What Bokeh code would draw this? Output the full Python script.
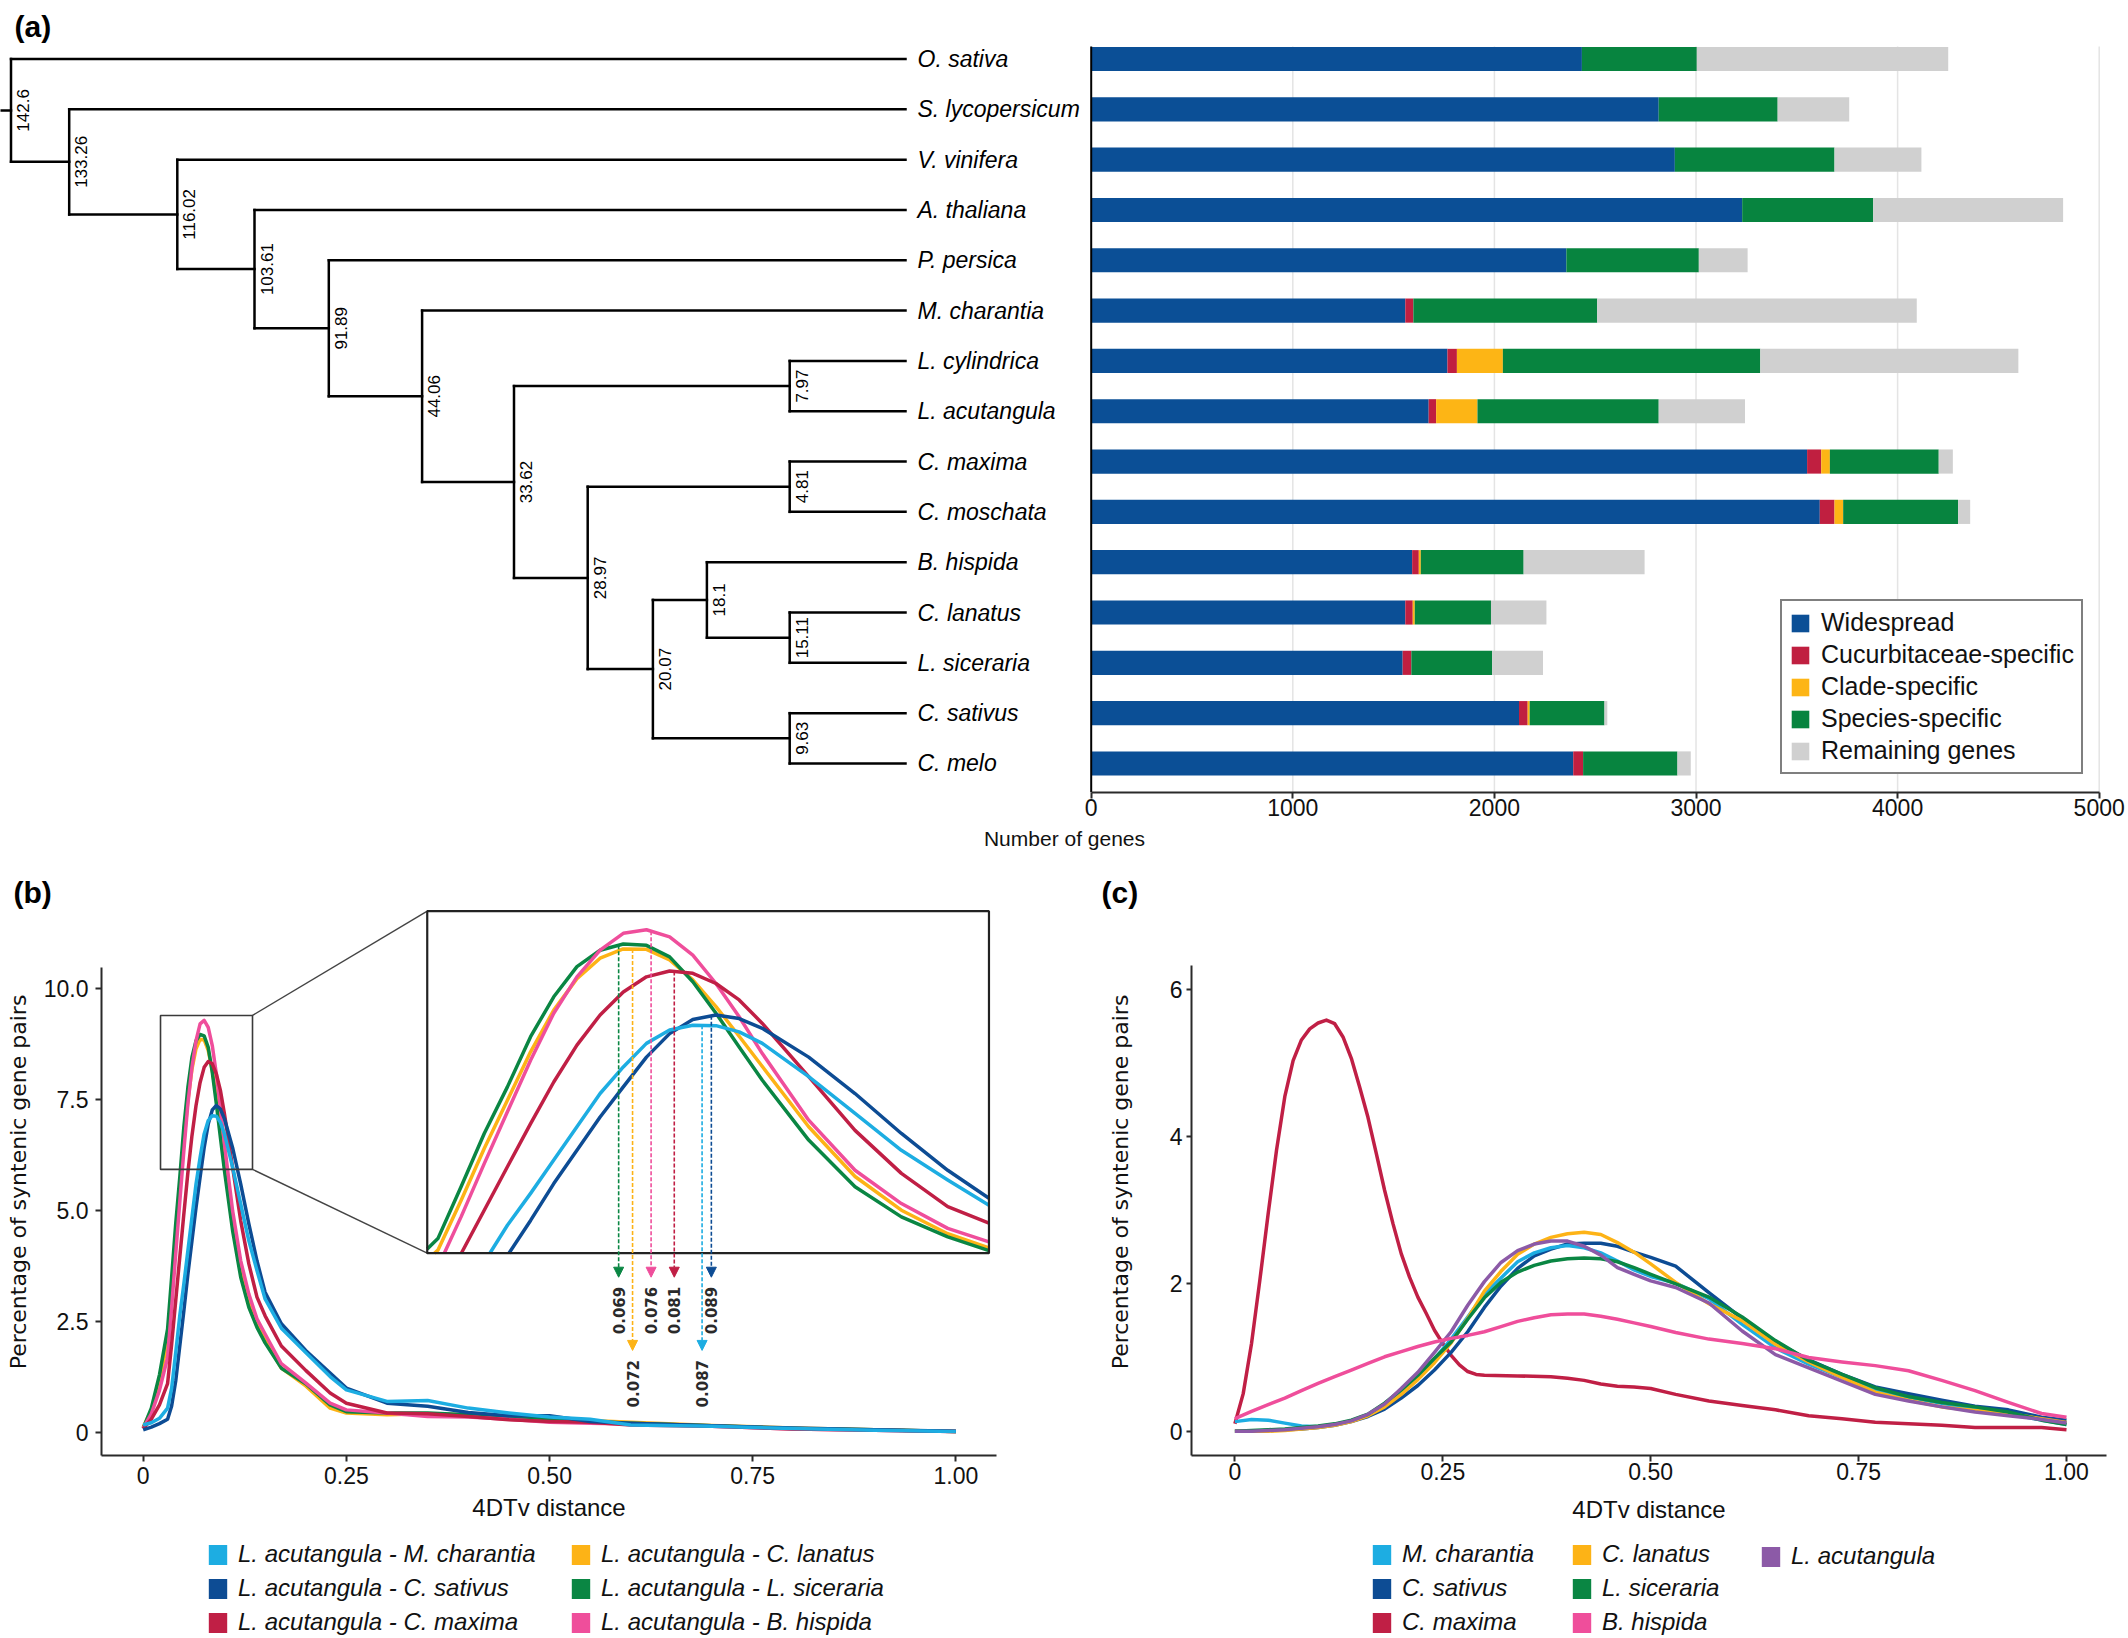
import math
import numpy as np
from bokeh.plotting import figure
from bokeh.models import (Range1d, FixedTicker, Label, Legend, LegendItem, Arrow, NormalHead, Title)
from bokeh.layouts import column, row
from bokeh.embed import file_html
from bokeh.resources import INLINE
from bokeh.core.properties import value

FONT = "Liberation Sans"
WIDE = "DejaVu Sans"
AXIS_COL = "#2a2a2a"

# ====================== panel (a) data ======================
SPECIES = ["O. sativa", "S. lycopersicum", "V. vinifera", "A. thaliana", "P. persica",
           "M. charantia", "L. cylindrica", "L. acutangula", "C. maxima", "C. moschata",
           "B. hispida", "C. lanatus", "L. siceraria", "C. sativus", "C. melo"]
CATEGORIES = ["Widespread", "Cucurbitaceae-specific", "Clade-specific",
              "Species-specific", "Remaining genes"]
WIDESPREAD = [2434, 2815, 2895, 3229, 2357, 1558, 1767, 1674, 3551, 3614, 1592, 1558, 1545, 2122, 2391]
CUCURBIT = [0, 0, 0, 0, 0, 40, 47, 37, 70, 73, 33, 37, 43, 43, 49]
CLADE = [0, 0, 0, 0, 0, 0, 228, 205, 43, 43, 10, 10, 0, 10, 0]
SPECIES_SPECIFIC = [570, 590, 792, 650, 657, 912, 1277, 899, 540, 570, 510, 378, 401, 371, 468]
REMAINING = [1247, 355, 431, 942, 242, 1585, 1280, 428, 70, 60, 600, 275, 252, 14, 66]
CAT_COLORS = ["#0B4F96", "#C01F40", "#FDB515", "#07843F", "#D0D0D0"]
GENE_TICKS = [0, 1000, 2000, 3000, 4000, 5000]

# tree: (node label = divergence time, child 1, child 2)
TREE = [
    ("142.6", "O. sativa", "133.26"),
    ("133.26", "S. lycopersicum", "116.02"),
    ("116.02", "V. vinifera", "103.61"),
    ("103.61", "A. thaliana", "91.89"),
    ("91.89", "P. persica", "44.06"),
    ("44.06", "M. charantia", "33.62"),
    ("33.62", "7.97", "28.97"),
    ("7.97", "L. cylindrica", "L. acutangula"),
    ("28.97", "4.81", "20.07"),
    ("4.81", "C. maxima", "C. moschata"),
    ("20.07", "18.1", "9.63"),
    ("18.1", "B. hispida", "15.11"),
    ("15.11", "C. lanatus", "L. siceraria"),
    ("9.63", "C. sativus", "C. melo"),
]
# cladogram layout (horizontal position of each node in tree-panel units)
NODE_POS = {"142.6": 10.5, "133.26": 68.7, "116.02": 176.8, "103.61": 254.0, "91.89": 328.3,
            "44.06": 421.6, "33.62": 513.5, "7.97": 789.2, "28.97": 587.2, "4.81": 789.2,
            "20.07": 652.4, "18.1": 706.4, "15.11": 789.2, "9.63": 789.2}
TIP_POS = 905.0

# ====================== panel (b) data ======================
XB = [0, 0.01, 0.02, 0.03, 0.035, 0.04, 0.045, 0.05, 0.055, 0.06, 0.065, 0.07, 0.075, 0.08,
      0.085, 0.09, 0.095, 0.10, 0.11, 0.12, 0.13, 0.14, 0.15, 0.17, 0.20, 0.23, 0.25, 0.30,
      0.35, 0.40, 0.45, 0.50, 0.55, 0.60, 0.70, 0.80, 0.90, 1.00]
B_MCHARANTIA = [0.17, 0.22, 0.32, 0.55, 1.00, 1.80, 2.63, 3.35, 4.10, 4.85, 5.60, 6.20, 6.73, 7.03,
                7.14, 7.13, 6.99, 6.73, 5.98, 5.15, 4.32, 3.65, 3.01, 2.35, 1.80, 1.26, 0.96, 0.70,
                0.72, 0.55, 0.44, 0.35, 0.30, 0.17, 0.14, 0.09, 0.05, 0.02]
B_CSATIVUS = [0.06, 0.12, 0.20, 0.30, 0.60, 1.16, 1.95, 2.74, 3.57, 4.32, 5.07, 5.75, 6.42, 6.95,
              7.27, 7.37, 7.29, 7.07, 6.42, 5.60, 4.70, 3.87, 3.16, 2.45, 1.85, 1.34, 1.00, 0.66,
              0.59, 0.45, 0.38, 0.38, 0.25, 0.21, 0.15, 0.10, 0.06, 0.03]
B_CMAXIMA = [0.08, 0.30, 0.62, 1.10, 1.99, 2.97, 3.95, 4.92, 5.86, 6.69, 7.37, 7.89, 8.23, 8.36,
             8.31, 8.08, 7.71, 7.18, 5.98, 4.77, 3.80, 3.05, 2.63, 1.95, 1.40, 0.89, 0.66, 0.44,
             0.42, 0.36, 0.29, 0.25, 0.23, 0.17, 0.14, 0.08, 0.05, 0.02]
B_CLANATUS = [0.12, 0.50, 1.15, 2.07, 3.19, 4.36, 5.45, 6.54, 7.48, 8.19, 8.65, 8.86, 8.85, 8.61,
              8.16, 7.56, 6.89, 6.21, 4.85, 3.73, 2.97, 2.44, 2.08, 1.45, 1.05, 0.55, 0.44, 0.40,
              0.42, 0.40, 0.38, 0.32, 0.27, 0.23, 0.16, 0.10, 0.06, 0.02]
B_LSICERARIA = [0.10, 0.55, 1.30, 2.33, 3.50, 4.70, 5.75, 6.88, 7.78, 8.46, 8.83, 8.97, 8.94, 8.68,
                8.12, 7.41, 6.65, 5.90, 4.55, 3.50, 2.82, 2.37, 2.02, 1.45, 1.10, 0.62, 0.47, 0.44,
                0.44, 0.40, 0.36, 0.30, 0.25, 0.21, 0.15, 0.09, 0.06, 0.02]
B_BHISPIDA = [0.10, 0.42, 0.95, 1.69, 2.82, 4.02, 5.19, 6.35, 7.41, 8.23, 8.83, 9.21, 9.29, 9.13,
              8.72, 8.08, 7.33, 6.50, 5.00, 3.87, 3.12, 2.56, 2.22, 1.55, 1.12, 0.66, 0.51, 0.44,
              0.36, 0.35, 0.30, 0.23, 0.21, 0.19, 0.14, 0.08, 0.05, 0.02]
B_NAMES = ["L. acutangula - M. charantia", "L. acutangula - C. sativus", "L. acutangula - C. maxima",
           "L. acutangula - C. lanatus", "L. acutangula - L. siceraria", "L. acutangula - B. hispida"]
B_PEAKS = [0.087, 0.089, 0.081, 0.072, 0.069, 0.076]   # 4DTv peak positions
B_YTICKS = [0, 2.5, 5, 7.5, 10]
B_YLABELS = ["0", "2.5", "5.0", "7.5", "10.0"]

# ====================== panel (c) data ======================
XC = [0, 0.02, 0.04, 0.06, 0.08, 0.10, 0.12, 0.14, 0.16, 0.18, 0.20, 0.22, 0.24, 0.26, 0.28,
      0.30, 0.32, 0.34, 0.36, 0.38, 0.40, 0.42, 0.44, 0.46, 0.48, 0.50, 0.53, 0.57, 0.61, 0.65,
      0.69, 0.73, 0.77, 0.81, 0.85, 0.89, 0.93, 0.97, 1.00]
C_MCHARANTIA = [0.13, 0.16, 0.15, 0.11, 0.07, 0.06, 0.09, 0.14, 0.22, 0.35, 0.52, 0.72, 0.98, 1.25,
                1.55, 1.86, 2.08, 2.30, 2.42, 2.49, 2.52, 2.49, 2.42, 2.31, 2.19, 2.10, 2.01, 1.80,
                1.45, 1.13, 0.91, 0.73, 0.56, 0.46, 0.38, 0.30, 0.24, 0.15, 0.09]
C_CSATIVUS = [0.0, 0.0, 0.01, 0.02, 0.03, 0.05, 0.08, 0.13, 0.20, 0.30, 0.45, 0.62, 0.83, 1.07,
              1.35, 1.68, 1.97, 2.21, 2.38, 2.47, 2.54, 2.55, 2.55, 2.51, 2.43, 2.36, 2.24, 1.88,
              1.53, 1.21, 0.97, 0.77, 0.60, 0.51, 0.42, 0.34, 0.29, 0.19, 0.15]
XC_MAXIMA = [0, 0.01, 0.02, 0.03, 0.04, 0.05, 0.06, 0.07, 0.08, 0.09, 0.10, 0.11, 0.12, 0.13, 0.14,
             0.15, 0.16, 0.17, 0.18, 0.19, 0.20, 0.21, 0.22, 0.23, 0.24, 0.25, 0.26, 0.27, 0.28,
             0.29, 0.30, 0.34, 0.38, 0.40, 0.42, 0.44, 0.46, 0.48, 0.50, 0.53, 0.57, 0.61, 0.65,
             0.69, 0.73, 0.77, 0.81, 0.85, 0.89, 0.93, 0.97, 1.00]
C_CMAXIMA = [0.10, 0.51, 1.19, 2.05, 2.95, 3.81, 4.54, 5.03, 5.31, 5.46, 5.54, 5.58, 5.53, 5.35,
             5.06, 4.67, 4.26, 3.77, 3.27, 2.82, 2.41, 2.09, 1.82, 1.60, 1.37, 1.19, 1.03, 0.90,
             0.81, 0.77, 0.76, 0.75, 0.74, 0.72, 0.69, 0.64, 0.61, 0.60, 0.58, 0.50, 0.41, 0.35,
             0.29, 0.21, 0.17, 0.12, 0.10, 0.08, 0.05, 0.05, 0.05, 0.02]
C_CLANATUS = [0.0, 0.0, 0.0, 0.01, 0.03, 0.05, 0.08, 0.13, 0.21, 0.33, 0.50, 0.70, 0.93, 1.20,
              1.53, 1.90, 2.17, 2.40, 2.54, 2.63, 2.68, 2.70, 2.67, 2.56, 2.43, 2.27, 2.02, 1.73,
              1.50, 1.18, 0.94, 0.73, 0.53, 0.42, 0.33, 0.28, 0.24, 0.17, 0.12]
C_LSICERARIA = [0.0, 0.01, 0.02, 0.03, 0.05, 0.07, 0.10, 0.15, 0.23, 0.38, 0.56, 0.76, 0.99, 1.21,
                1.52, 1.81, 2.02, 2.16, 2.25, 2.31, 2.34, 2.35, 2.34, 2.30, 2.22, 2.13, 2.00, 1.82,
                1.55, 1.23, 0.96, 0.77, 0.59, 0.47, 0.39, 0.33, 0.26, 0.15, 0.09]
C_BHISPIDA = [0.17, 0.27, 0.36, 0.45, 0.55, 0.65, 0.74, 0.83, 0.92, 1.01, 1.08, 1.15, 1.21, 1.26,
              1.30, 1.35, 1.42, 1.49, 1.54, 1.58, 1.59, 1.59, 1.56, 1.52, 1.47, 1.42, 1.34, 1.25,
              1.19, 1.12, 1.00, 0.94, 0.89, 0.82, 0.69, 0.55, 0.39, 0.24, 0.19]
C_LACUTANGULA = [0.0, 0.0, 0.01, 0.02, 0.04, 0.06, 0.09, 0.14, 0.23, 0.37, 0.58, 0.80, 1.07, 1.35,
                 1.71, 2.03, 2.29, 2.45, 2.54, 2.58, 2.58, 2.51, 2.39, 2.22, 2.13, 2.04, 1.95, 1.74,
                 1.36, 1.04, 0.86, 0.68, 0.50, 0.41, 0.33, 0.26, 0.21, 0.16, 0.11]
C_NAMES = ["M. charantia", "C. sativus", "C. maxima", "C. lanatus", "L. siceraria",
           "B. hispida", "L. acutangula"]
C_YTICKS = [0, 2, 4, 6]
X_TICKS = [0, 0.25, 0.5, 0.75, 1.0]
X_LABELS = ["0", "0.25", "0.50", "0.75", "1.00"]

# ====================== styles ======================
COL_CYAN, COL_BLUE, COL_RED = "#1DADE2", "#0D4C94", "#C01F45"
COL_ORANGE, COL_GREEN, COL_PINK, COL_PURPLE = "#FDB316", "#0A8643", "#EF4E9B", "#8C5AA7"
B_COLORS = [COL_CYAN, COL_BLUE, COL_RED, COL_ORANGE, COL_GREEN, COL_PINK]
C_COLORS = [COL_CYAN, COL_BLUE, COL_RED, COL_ORANGE, COL_GREEN, COL_PINK, COL_PURPLE]


def style_axis(ax, ticks, labels, title, bounds=None, tick_size="23px", title_size="24px",
               title_font=FONT, standoff=5, title_standoff=7, tick_out=6):
    ax.ticker = FixedTicker(ticks=ticks)
    ax.major_label_overrides = dict(zip(ticks, labels))
    if bounds is not None:
        ax.bounds = bounds
    ax.axis_label = title
    ax.axis_label_text_font = title_font
    ax.axis_label_text_font_size = title_size
    ax.axis_label_text_font_style = "normal"
    ax.axis_label_text_color = "#111111"
    ax.axis_label_standoff = title_standoff
    ax.major_label_text_font = FONT
    ax.major_label_text_font_size = tick_size
    ax.major_label_text_color = "#111111"
    ax.major_label_standoff = standoff
    ax.axis_line_color = AXIS_COL
    ax.axis_line_width = 2
    ax.major_tick_line_color = AXIS_COL
    ax.major_tick_line_width = 2
    ax.major_tick_out = tick_out
    ax.major_tick_in = 0
    ax.minor_tick_line_color = None


def base_fig(**kw):
    return figure(output_backend="svg", toolbar_location=None, outline_line_color=None,
                  title=None, background_fill_color="white", border_fill_color="white", **kw)


def panel_title(p, text, offset):
    p.add_layout(Title(text=text, align="left", offset=offset, standoff=0,
                       text_font=FONT, text_font_style="bold", text_font_size="30px",
                       text_color="black"), "above")


def make_legend(names, rends, loc):
    return Legend(items=[LegendItem(label=n, renderers=[r]) for n, r in zip(names, rends)],
                  location=loc, orientation="vertical", padding=0, spacing=6, margin=0,
                  glyph_width=23, glyph_height=25, label_height=27, label_standoff=9,
                  border_line_color=None, background_fill_alpha=0.0,
                  label_text_font=FONT, label_text_font_style="italic",
                  label_text_font_size="24px", label_text_color="#111111")


def swatches(p, colors):
    # legend keys: one square per colour, placed outside the visible range of the key panel
    return [p.quad(left=[5], right=[6], bottom=[5], top=[6], fill_color=c, line_color=None)
            for c in colors]


# ====================== panel (a) ======================
N = len(SPECIES)
ROWS = list(range(N))
pa = base_fig(width=2128, height=860, x_range=Range1d(-5410.2, 5145.3),
              y_range=Range1d(14.577, -1.1625), y_axis_type=None,
              min_border_left=0, min_border_right=0, min_border_top=0, min_border_bottom=68)
pa.extra_x_ranges = {"tree": Range1d(0, 2128)}
pa.xgrid.visible = False
pa.ygrid.visible = False

pa.segment(x0=GENE_TICKS[1:], x1=GENE_TICKS[1:], y0=[-0.25] * 5, y1=[14.577] * 5,
           line_color="#E4E4E4", line_width=1.5)
left = np.zeros(N)
bar_renderers = []
for name, vals, col in zip(CATEGORIES, [WIDESPREAD, CUCURBIT, CLADE, SPECIES_SPECIFIC, REMAINING],
                           CAT_COLORS):
    vals = np.asarray(vals, dtype=float)
    r = pa.hbar(y=ROWS, left=left, right=left + vals, height=0.48, fill_color=col, line_color=None)
    left = left + vals
    bar_renderers.append((name, r))
pa.segment(x0=[0], x1=[0], y0=[-0.25], y1=[14.577], line_color="black", line_width=2)

style_axis(pa.xaxis[0], GENE_TICKS, [str(t) for t in GENE_TICKS], "Number of genes",
           bounds=(0, 5000), tick_size="23px", title_size="21px", standoff=0, title_standoff=8)

leg_a = Legend(items=[LegendItem(label=n, renderers=[r]) for n, r in bar_renderers],
               location=(1780, 18), orientation="vertical", padding=7, spacing=3, margin=0,
               glyph_width=22, glyph_height=22, label_height=26, label_standoff=10,
               border_line_color="black", border_line_width=2.5,
               background_fill_color="white", background_fill_alpha=1.0,
               label_text_font=FONT, label_text_font_size="25px", label_text_color="#111111")
pa.add_layout(leg_a)

# tree
ypos = {s: float(i) for i, s in enumerate(SPECIES)}
xpos = {s: TIP_POS for s in SPECIES}
for lab, a, b in reversed(TREE):
    ypos[lab] = (ypos[a] + ypos[b]) / 2.0
    xpos[lab] = NODE_POS[lab]
sx0, sy0, sx1, sy1 = [], [], [], []
for lab, a, b in TREE:
    sx0.append(xpos[lab]); sx1.append(xpos[lab]); sy0.append(ypos[a]); sy1.append(ypos[b])
    for c in (a, b):
        sx0.append(xpos[lab]); sx1.append(xpos[c]); sy0.append(ypos[c]); sy1.append(ypos[c])
root = TREE[0][0]
sx0.append(0); sx1.append(xpos[root]); sy0.append(ypos[root]); sy1.append(ypos[root])
pa.segment(x0=sx0, y0=sy0, x1=sx1, y1=sy1, line_color="black", line_width=2.5,
           line_cap="square", x_range_name="tree")
pa.text(x=[TIP_POS + 12] * N, y=ROWS, text=SPECIES, x_range_name="tree",
        text_font=value(FONT), text_font_style=value("italic"), text_font_size=value("23px"),
        text_baseline=value("middle"), text_align=value("left"), text_color="black")
node_labels = [t[0] for t in TREE]
pa.text(x=[xpos[l] + 12 for l in node_labels], y=[ypos[l] for l in node_labels], text=node_labels,
        angle=math.pi / 2, x_range_name="tree", text_font=value(FONT),
        text_font_size=value("17px"), text_baseline=value("middle"), text_align=value("center"),
        text_color="black")
pa.add_layout(Label(x=14, y=766, x_units="screen", y_units="screen", text="(a)",
                    text_font=FONT, text_font_style="bold", text_font_size="30px",
                    text_baseline="middle", text_align="left", text_color="black"))

# ====================== panel (b) ======================
pb = base_fig(width=1060, height=676, x_range=Range1d(-0.05131, 1.04996),
              y_range=Range1d(-0.5184, 11.810),
              min_border_left=101, min_border_right=64, min_border_top=48, min_border_bottom=81)
pb.grid.visible = False
style_axis(pb.xaxis[0], X_TICKS, X_LABELS, "4DTv distance", standoff=5, title_standoff=7)
style_axis(pb.yaxis[0], B_YTICKS, B_YLABELS, "Percentage of syntenic gene pairs",
           bounds=(-0.5184, 10.48), title_font=WIDE, title_size="22px",
           standoff=7, title_standoff=10)
panel_title(pb, "(b)", -88)

B_DATA = [B_MCHARANTIA, B_CSATIVUS, B_CMAXIMA, B_CLANATUS, B_LSICERARIA, B_BHISPIDA]
draw_order = [3, 4, 5, 2, 1, 0]
for k in draw_order:
    pb.line(XB, B_DATA[k], line_color=B_COLORS[k], line_width=3.5, line_join="round")

ZR = (0.0213, 0.1345, 5.93, 9.40)                 # small rectangle (x0, x1, y0, y1)
INSET_BOX = (0.3495, 1.0407, 4.041, 11.749)        # inset frame in main coordinates
INSET_WIN_X = (0.0277, 0.1489)                     # data window shown in inset
Y_SHIFT = 2.04
INSET_WIN_Y = (INSET_BOX[2] - Y_SHIFT, INSET_BOX[3] - Y_SHIFT)
SCALE_X = (INSET_BOX[1] - INSET_BOX[0]) / (INSET_WIN_X[1] - INSET_WIN_X[0])


def to_inset(x, y):
    return INSET_BOX[0] + (x - INSET_WIN_X[0]) * SCALE_X, y + Y_SHIFT


def clip_seg(xa, ya, xb, yb, x0, x1, y0, y1):
    dx, dy = xb - xa, yb - ya
    t0, t1 = 0.0, 1.0
    for p, q in ((-dx, xa - x0), (dx, x1 - xa), (-dy, ya - y0), (dy, y1 - ya)):
        if p == 0:
            if q < 0:
                return None
        else:
            t = q / p
            if p < 0:
                if t > t1:
                    return None
                t0 = max(t0, t)
            else:
                if t < t0:
                    return None
                t1 = min(t1, t)
    return xa + t0 * dx, ya + t0 * dy, xa + t1 * dx, ya + t1 * dy


def clip_polyline(xs, ys):
    pieces, cx, cy = [], [], []
    for i in range(len(xs) - 1):
        s = clip_seg(xs[i], ys[i], xs[i + 1], ys[i + 1], INSET_WIN_X[0], INSET_WIN_X[1],
                     INSET_WIN_Y[0], INSET_WIN_Y[1])
        if s is None:
            if cx:
                pieces.append((cx, cy)); cx, cy = [], []
            continue
        ax_, ay_, bx_, by_ = s
        if cx and abs(cx[-1] - ax_) < 1e-12 and abs(cy[-1] - ay_) < 1e-12:
            cx.append(bx_); cy.append(by_)
        else:
            if cx:
                pieces.append((cx, cy))
            cx, cy = [ax_, bx_], [ay_, by_]
    if cx:
        pieces.append((cx, cy))
    out = []
    for px, py in pieces:
        tx, ty = zip(*[to_inset(a, b) for a, b in zip(px, py)])
        out.append((list(tx), list(ty)))
    return out


pb.quad(left=[ZR[0]], right=[ZR[1]], bottom=[ZR[2]], top=[ZR[3]], fill_color=None,
        line_color="#3a3a3a", line_width=1.6)
pb.segment(x0=[ZR[1], ZR[1]], y0=[ZR[3], ZR[2]], x1=[INSET_BOX[0], INSET_BOX[0]],
           y1=[INSET_BOX[3], INSET_BOX[2]], line_color="#444444", line_width=1.4)
pb.quad(left=[INSET_BOX[0]], right=[INSET_BOX[1]], bottom=[INSET_BOX[2]], top=[INSET_BOX[3]],
        fill_color="white", line_color=None)
for k in draw_order:
    pieces = clip_polyline(XB, B_DATA[k])
    pb.multi_line(xs=[p[0] for p in pieces], ys=[p[1] for p in pieces],
                  line_color=B_COLORS[k], line_width=3.5, line_join="round")
pb.quad(left=[INSET_BOX[0]], right=[INSET_BOX[1]], bottom=[INSET_BOX[2]], top=[INSET_BOX[3]],
        fill_color=None, line_color="#222222", line_width=2.2)

LONG_ARROW = {0.072, 0.087}
lab_x, lab_y, lab_t = [], [], []
for k in range(6):
    v = B_PEAKS[k]
    xm, _ = to_inset(v, 0)
    y_peak = float(np.interp(v, XB, B_DATA[k])) + Y_SHIFT
    y_end = 1.85 if v in LONG_ARROW else 3.50
    pb.add_layout(Arrow(end=NormalHead(size=10, fill_color=B_COLORS[k], line_color=B_COLORS[k],
                                       line_width=1),
                        x_start=xm, y_start=y_peak, x_end=xm, y_end=y_end,
                        line_color=B_COLORS[k], line_width=1.6, line_dash="4 2"))
    lab_x.append(xm)
    lab_y.append(1.10 if v in LONG_ARROW else 2.75)
    lab_t.append(f"{v:.3f}")
pb.text(x=lab_x, y=lab_y, text=lab_t, angle=math.pi / 2, text_font=value(WIDE),
        text_font_size=value("15px"), text_font_style=value("bold"), text_align=value("center"),
        text_baseline=value("middle"), text_color="#2a2a2a")

# ====================== panel (c) ======================
pc = base_fig(width=1068, height=676, x_range=Range1d(-0.05219, 1.04810),
              y_range=Range1d(-0.3297, 7.0936),
              min_border_left=131, min_border_right=22, min_border_top=48, min_border_bottom=81)
pc.grid.visible = False
style_axis(pc.xaxis[0], X_TICKS, X_LABELS, "4DTv distance", standoff=1, title_standoff=13)
style_axis(pc.yaxis[0], C_YTICKS, [str(t) for t in C_YTICKS], "Percentage of syntenic gene pairs",
           bounds=(-0.3297, 6.319), title_font=WIDE, title_size="22px", standoff=4,
           title_standoff=34, tick_out=5)
panel_title(pc, "(c)", -90)

C_DATA = [C_MCHARANTIA, C_CSATIVUS, C_CMAXIMA, C_CLANATUS, C_LSICERARIA, C_BHISPIDA, C_LACUTANGULA]
C_XS = [XC, XC, XC_MAXIMA, XC, XC, XC, XC]
for k in [2, 1, 0, 3, 4, 6, 5]:
    pc.line(C_XS[k], C_DATA[k], line_color=C_COLORS[k], line_width=3.5, line_join="round")

# ====================== legends for (b) and (c) ======================
lb = base_fig(width=1060, height=100, x_range=Range1d(0, 1), y_range=Range1d(0, 1),
              x_axis_type=None, y_axis_type=None, min_border_left=0, min_border_right=0,
              min_border_top=0, min_border_bottom=0)
lb.grid.visible = False
b_sw = swatches(lb, B_COLORS)
lb.add_layout(make_legend(B_NAMES[:3], b_sw[:3], (206, 0)))
lb.add_layout(make_legend(B_NAMES[3:], b_sw[3:], (569, 0)))

lc = base_fig(width=1068, height=100, x_range=Range1d(0, 1), y_range=Range1d(0, 1),
              x_axis_type=None, y_axis_type=None, min_border_left=0, min_border_right=0,
              min_border_top=0, min_border_bottom=0)
lc.grid.visible = False
c_sw = swatches(lc, C_COLORS)
lc.add_layout(make_legend(C_NAMES[:3], c_sw[:3], (310, 0)))
lc.add_layout(make_legend(C_NAMES[3:6], c_sw[3:6], (510, 0)))
lc.add_layout(make_legend(C_NAMES[6:], c_sw[6:], (699, 66)))

layout = column(pa, row(pb, pc), row(lb, lc))
open("out.html", "w").write(file_html(layout, INLINE))
